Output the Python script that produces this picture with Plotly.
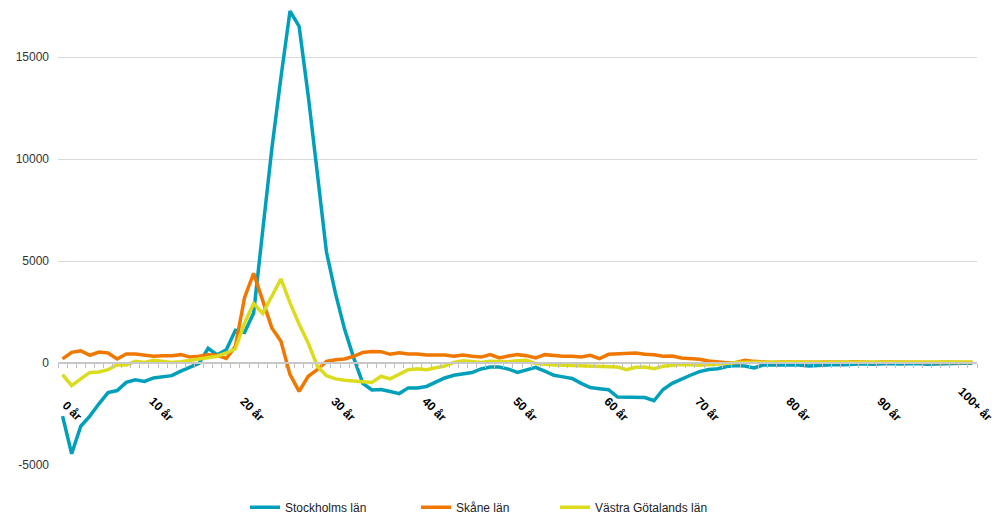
import plotly.graph_objects as go

ages = [f"{i} år" for i in range(100)] + ["100+ år"]
label_ages = [ages[i] for i in range(0, 101, 10)]

stockholm = [
    -2600, -4450, -3100, -2600, -2000, -1450, -1350, -950, -820, -900,
    -730, -680, -620, -400, -220, -20, 720, 400, 650, 1600,
    1500, 2450, 6500, 10500, 14000, 17250, 16500, 13100, 9300, 5450,
    3400, 1650, 250, -1000, -1320, -1300, -1400, -1500, -1220, -1220,
    -1150, -950, -735, -600, -540, -470, -290, -200, -200, -300,
    -460, -330, -210, -400, -600, -680, -760, -1000, -1200, -1260,
    -1310, -1670, -1670, -1680, -1690, -1850, -1300, -1000, -780, -600,
    -420, -320, -280, -170, -120, -150, -240, -100, -80, -90,
    -70, -100, -150, -120, -60, -70, -90, -50, -40, -60,
    -40, -30, -50, -30, -20, -60, -40, -20, -10, -10,
    -10,
]

skane = [
    200, 520, 600, 380, 540, 490, 200, 440, 440, 380,
    330, 360, 360, 410, 290, 330, 410, 380, 220, 820,
    3200, 4400, 3120, 1720, 1070, -570, -1390, -650, -330, 80,
    160, 200, 330, 520, 560, 555, 425, 505, 440, 440,
    390, 390, 390, 330, 390, 330, 290, 410, 250, 340,
    410, 360, 245, 410, 360, 330, 330, 290, 375, 210,
    425, 440, 460, 490, 425, 400, 330, 340, 245, 210,
    180, 100, 50, 15, 30, 130, 80, 40, 30, 50,
    40, 30, 60, 40, 50, 30, 40, 60, 40, 30,
    50, 40, 30, 40, 50, 40, 30, 40, 30, 30,
    30,
]

vastra = [
    -570, -1110, -780, -460, -440, -330, -80, -100, 80, 30,
    130, 60, 30, 60, 130, 200, 290, 330, 490, 700,
    1950, 2920, 2430, 3300, 4120, 2950, 1900, 980, -160, -620,
    -780, -850, -900, -920, -950, -650, -780, -550, -330, -280,
    -330, -230, -150, 30, 110, 80, 30, 80, 50, 60,
    110, 130, -30, -80, -100, -110, -130, -150, -160, -160,
    -170, -200, -330, -210, -200, -280, -160, -100, -80, -90,
    -110, -80, -60, -20, 30, 50, 40, 40, 50, 40,
    40, 50, 40, 40, 50, 40, 40, 50, 40, 40,
    50, 40, 40, 50, 40, 40, 50, 40, 40, 50,
    50,
]

series_names = ["Stockholms län", "Skåne län", "Västra Götalands län"]
series_colors = ["#00a0ba", "#f07800", "#dcdc1e"]
series_legends = ["legend", "legend2", "legend3"]
series_values = [stockholm, skane, vastra]

ytick_vals = [-5000, 0, 5000, 10000, 15000]
ytick_text = ["-5000", "0", "5000", "10000", "15000"]
y_min, y_max = -5000, 17500

fig = go.Figure()
for name, vals, color, lg in zip(series_names, series_values, series_colors, series_legends):
    fig.add_trace(go.Scatter(
        x=ages, y=vals, mode="lines", name=name,
        line=dict(color=color, width=3.5),
        legend=lg, showlegend=True,
    ))

FONT = "Liberation Sans Narrow, Liberation Sans, Arial"

# category labels along the zero line, rotated like the original
for lab in label_ages:
    fig.add_annotation(
        x=lab, y=0, xref="x", yref="y",
        text=lab, showarrow=False, textangle=45,
        xanchor="right", yanchor="bottom",
        xshift=25, yshift=-64,
        font=dict(family=FONT, size=12, color="#000000", weight="bold"),
    )

legend_common = dict(
    orientation="h", yanchor="middle", y=-0.092, xanchor="left",
    font=dict(family=FONT, size=12, color="#222222"),
    bgcolor="rgba(0,0,0,0)",
)

fig.update_layout(
    width=997, height=514,
    margin=dict(l=58, r=20, t=6, b=49, autoexpand=False),
    showlegend=True,
    paper_bgcolor="white", plot_bgcolor="white",
    font=dict(family=FONT, size=12, color="#222222"),
    xaxis=dict(
        type="category",
        categoryorder="array", categoryarray=ages,
        range=[-0.5, len(ages) - 0.5],
        tickmode="array", tickvals=ages,
        tickson="boundaries", showticklabels=False,
        ticks="outside", ticklen=4, tickcolor="#bfbfbf", tickwidth=1,
        showline=True, linecolor="#c8c8c8", linewidth=2,
        showgrid=False, zeroline=False, automargin=False,
        anchor="free", position=(0 - y_min) / (y_max - y_min),
    ),
    yaxis=dict(
        range=[y_min, y_max], automargin=False,
        tickmode="array", tickvals=ytick_vals, ticktext=ytick_text,
        showgrid=True, gridcolor="#d9d9d9", gridwidth=1,
        zeroline=False, showline=False, ticks="",
        ticklabelstandoff=8,
        tickfont=dict(family=FONT, size=12, color="#333333"),
    ),
    legend=dict(x=(245 - 58) / 919, **legend_common),
    legend2=dict(x=(416 - 58) / 919, **legend_common),
    legend3=dict(x=(555 - 58) / 919, **legend_common),
)

fig.write_html("out.html")
